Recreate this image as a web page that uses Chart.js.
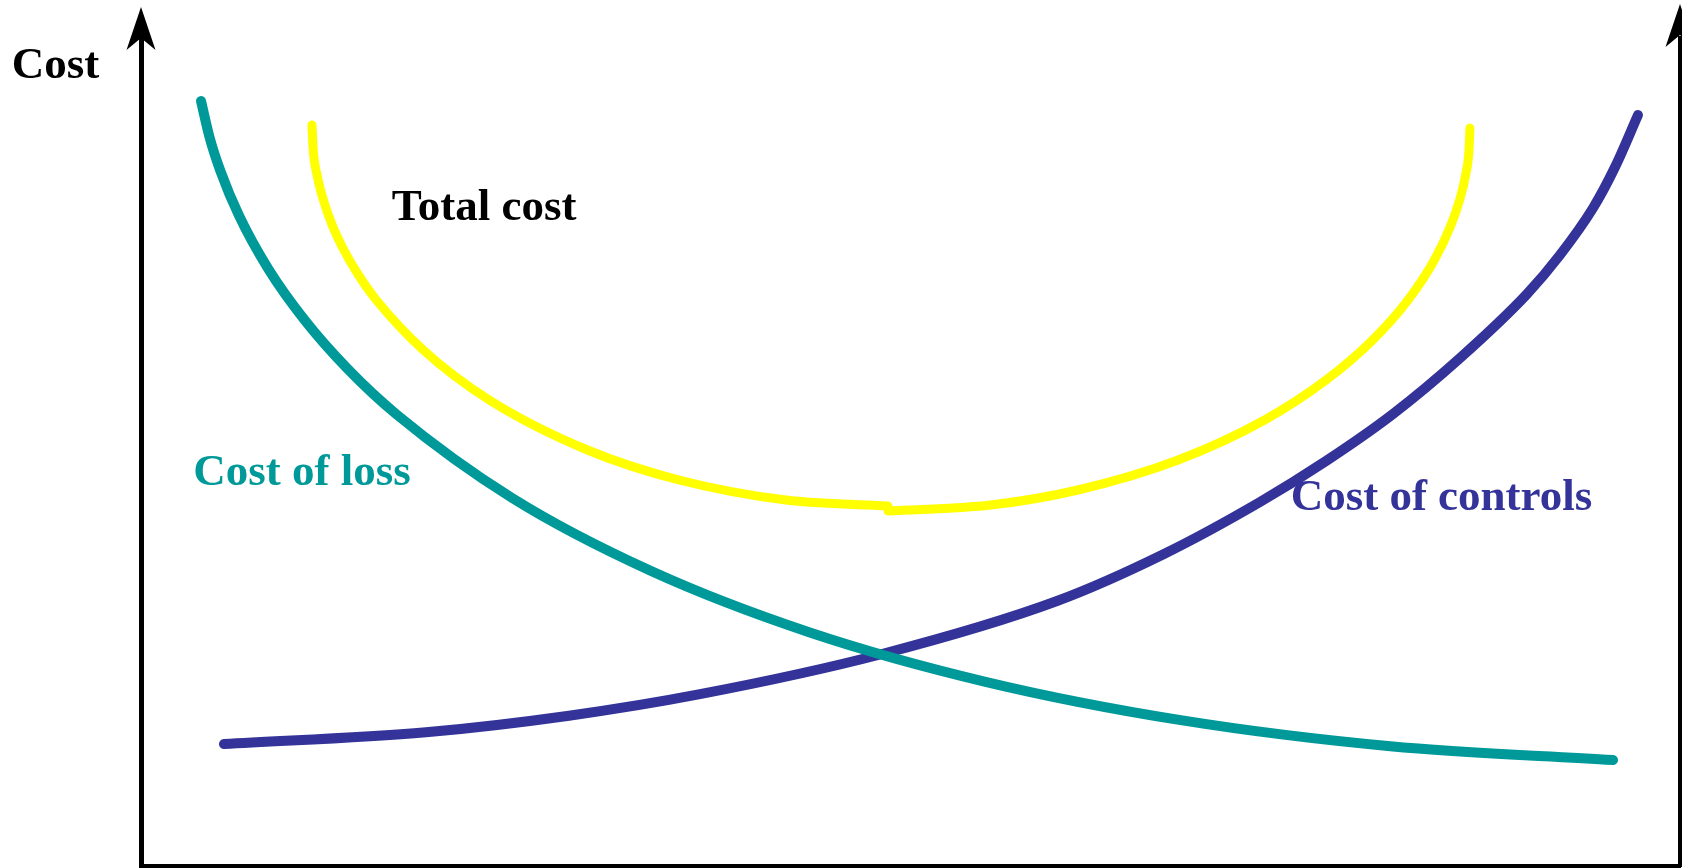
<!DOCTYPE html>
<html>
<head>
<meta charset="utf-8">
<script src="https://cdn.jsdelivr.net/npm/chart.js@4/dist/chart.umd.min.js"></script>
<style>
  html, body { margin: 0; padding: 0; background: #ffffff; }
  #wrap { width: 1682px; height: 868px; }
</style>
</head>
<body>
<div id="wrap"><canvas id="c" width="1682" height="868"></canvas></div>
<script>
// Level of control (x) and cost (y), both in arbitrary units 0-100
const lossX     = [3.90, 4.44, 5.16, 6.37, 8.29, 10.65, 13.42, 16.61, 24.13, 33.11, 43.41, 54.94, 67.56, 81.18, 95.65];
const lossY     = [92.39, 88.10, 83.93, 78.54, 72.05, 65.89, 60.05, 54.53, 44.43, 35.66, 28.24, 22.22, 17.62, 14.47, 12.80];

const controlsX = [5.39, 18.52, 27.81, 36.32, 48.15, 59.52, 66.47, 72.71, 77.00, 81.35, 85.71, 90.06, 92.20, 94.35, 95.78, 97.27];
const controlsY = [14.73, 16.15, 18.15, 20.75, 25.60, 32.00, 37.68, 43.96, 48.91, 54.59, 61.35, 69.08, 73.79, 79.47, 84.42, 90.70];

const totalLeftX  = [11.11, 11.19, 11.44, 11.85, 12.42, 13.18, 14.13, 15.29, 18.34, 22.63, 29.01, 34.96, 41.91, 48.54];
const totalLeftY  = [89.49, 86.47, 83.45, 80.43, 77.42, 74.40, 71.38, 68.36, 62.32, 56.28, 50.24, 46.62, 44.20, 43.48];
const totalRightX = [48.54, 55.21, 60.88, 67.39, 73.01, 77.01, 80.03, 82.33, 84.04, 85.12, 85.68, 86.07, 86.29, 86.35];
const totalRightY = [42.87, 43.60, 45.41, 49.03, 53.86, 58.70, 63.53, 68.36, 73.19, 77.42, 80.43, 83.45, 86.47, 89.13];

const labelTexts = ["Cost", "Total cost", "Cost of loss", "Cost of controls"];
const labelX     = [-8.4, 16.3, 3.4, 74.7];
const labelY     = [95.2, 78.0, 46.0, 43.0];

const TEAL = '#009999', BLUE = '#333399', YELLOW = '#FFFF00';
const labelColors = ['#000000', '#000000', TEAL, BLUE];

const pts = (xs, ys) => xs.map((x, i) => ({ x: x, y: ys[i] }));

const lineStyle = (color, w) => ({
  borderColor: color, borderWidth: w, borderCapStyle: 'round', borderJoinStyle: 'round',
  pointRadius: 0, pointHoverRadius: 0, showLine: true, fill: false,
  cubicInterpolationMode: 'monotone', clip: false
});

const overlay = {
  id: 'overlay',
  afterDraw(chart) {
    const ctx = chart.ctx;
    const xs = chart.scales.x, ys = chart.scales.y;
    const area = chart.chartArea;
    const arrow = (x, tipY) => {
      ctx.save();
      ctx.fillStyle = '#000';
      ctx.beginPath();
      ctx.moveTo(x, tipY);
      ctx.lineTo(x + 14.5, tipY + 43);
      ctx.lineTo(x, tipY + 31);
      ctx.lineTo(x - 14.5, tipY + 43);
      ctx.closePath();
      ctx.fill();
      ctx.restore();
    };
    arrow(area.left, area.top - 31);
    arrow(area.right, area.top - 34);
    ctx.save();
    ctx.font = 'bold 45px "Liberation Serif", "Times New Roman", serif';
    ctx.textBaseline = 'alphabetic';
    ctx.textAlign = 'left';
    labelTexts.forEach((t, i) => {
      ctx.fillStyle = labelColors[i];
      ctx.fillText(t, xs.getPixelForValue(labelX[i]), ys.getPixelForValue(labelY[i]));
    });
    ctx.restore();
  }
};

new Chart(document.getElementById('c'), {
  type: 'scatter',
  data: {
    datasets: [
      Object.assign({ label: 'Cost of loss', data: pts(lossX, lossY) }, lineStyle(TEAL, 10)),
      Object.assign({ label: 'Total cost', data: pts(totalLeftX, totalLeftY) }, lineStyle(YELLOW, 9)),
      Object.assign({ label: 'Total cost ', data: pts(totalRightX, totalRightY) }, lineStyle(YELLOW, 9)),
      Object.assign({ label: 'Cost of controls', data: pts(controlsX, controlsY) }, lineStyle(BLUE, 10))
    ]
  },
  options: {
    responsive: false,
    animation: false,
    devicePixelRatio: 1,
    layout: { padding: { left: 141, right: 2, top: 38, bottom: 2 } },
    plugins: { legend: { display: false }, tooltip: { enabled: false }, title: { display: false } },
    events: [],
    scales: {
      x: {
        type: 'linear', min: 0, max: 100, position: 'bottom',
        ticks: { display: false }, grid: { display: false, drawTicks: false },
        border: { display: true, width: 4, color: '#000' },
        afterFit: (s) => { s.height = 0; }
      },
      y: {
        type: 'linear', min: 0, max: 100, position: 'left',
        ticks: { display: false }, grid: { display: false, drawTicks: false },
        border: { display: true, width: 5, color: '#000' },
        afterFit: (s) => { s.width = 0; }
      },
      y2: {
        type: 'linear', min: 0, max: 100, position: 'right', display: true,
        ticks: { display: false }, grid: { display: false, drawTicks: false },
        border: { display: true, width: 4, color: '#000' },
        afterFit: (s) => { s.width = 0; }
      }
    }
  },
  plugins: [overlay]
});
</script>
</body>
</html>
